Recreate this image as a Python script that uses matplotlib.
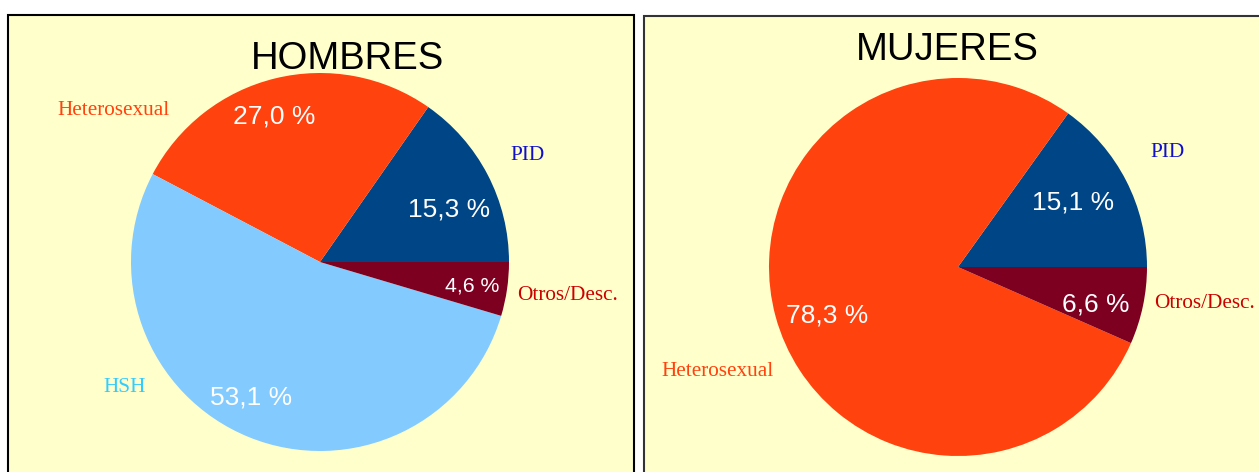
import matplotlib
matplotlib.use("Agg")
import matplotlib.pyplot as plt
from matplotlib.patches import Rectangle

W, H = 1259, 472

# Data
titles = ["HOMBRES", "MUJERES"]
men_categories = ["PID", "Heterosexual", "HSH", "Otros/Desc."]
men_values = [15.3, 27.0, 53.1, 4.6]
women_categories = ["PID", "Heterosexual", "Otros/Desc."]
women_values = [15.1, 78.3, 6.6]

slice_colors = {"PID": "#004586", "Heterosexual": "#FF420E",
                "HSH": "#83CAFF", "Otros/Desc.": "#7E0021"}
label_colors = {"PID": "#1010CC", "Heterosexual": "#FF420E",
                "HSH": "#33CCFF", "Otros/Desc.": "#CC0000"}

fig = plt.figure(figsize=(W / 100, H / 100), dpi=100)
fig.patch.set_facecolor("white")

def px_rect(x0, y0, x1, y1):
    return (x0 / W, 1 - y1 / H, (x1 - x0) / W, (y1 - y0) / H)

# Panels
l, b, w, h = px_rect(8, 15, 634, 480)
fig.patches.append(Rectangle((l, b), w, h, transform=fig.transFigure,
                             facecolor="#FFFFCC", edgecolor="black", lw=1.5, zorder=-10))
l, b, w, h = px_rect(644, 16, 1270, 480)
fig.patches.append(Rectangle((l, b), w, h, transform=fig.transFigure,
                             facecolor="#FFFFCC", edgecolor="#333333", lw=1.5, zorder=-10))

def fmt(v):
    return f"{v:.1f}".replace(".", ",") + " %"

def draw(cx, cy, r, cats, vals, pct_pos, pct_sizes, lab_pos, title, title_xy):
    ax = fig.add_axes(px_rect(cx - r, cy - r, cx + r, cy + r))
    ax.set_zorder(5)
    ax.patch.set_visible(False)
    ax.pie(vals, colors=[slice_colors[c] for c in cats], startangle=0,
           counterclock=True, radius=1.0, wedgeprops=dict(linewidth=0))
    ax.set_xlim(-1, 1)
    ax.set_ylim(-1, 1)
    ax.set_aspect("auto")
    ax.axis("off")
    for c, v, (x, y), s in zip(cats, vals, pct_pos, pct_sizes):
        ax.text(x, y, fmt(v), color="white", fontsize=s, family="Liberation Sans",
                ha="center", va="center")
    for c, (x, y) in zip(cats, lab_pos):
        ax.text(x, y, c, color=label_colors[c], fontsize=15.3, family="Liberation Serif",
                ha="center", va="center", clip_on=False)
    fig.text(title_xy[0] / W, 1 - title_xy[1] / H, title, fontsize=27.5,
             family="Liberation Sans", ha="center", va="center", zorder=6)

draw(320, 262, 189, men_categories, men_values,
     [(0.683, 0.279), (-0.243, 0.771), (-0.365, -0.716), (0.804, -0.126)],
     [19, 19, 19, 15.3],
     [(1.10, 0.561), (-1.09, 0.80), (-1.032, -0.666), (1.312, -0.179)],
     titles[0], (347, 59))

draw(958, 267, 189, women_categories, women_values,
     [(0.608, 0.342), (-0.693, -0.255), (0.730, -0.197)],
     [19, 19, 19],
     [(1.111, 0.604), (-1.27, -0.555), (1.302, -0.195)],
     titles[1], (947, 50))

fig.savefig("out.png", dpi=100, facecolor="white")
